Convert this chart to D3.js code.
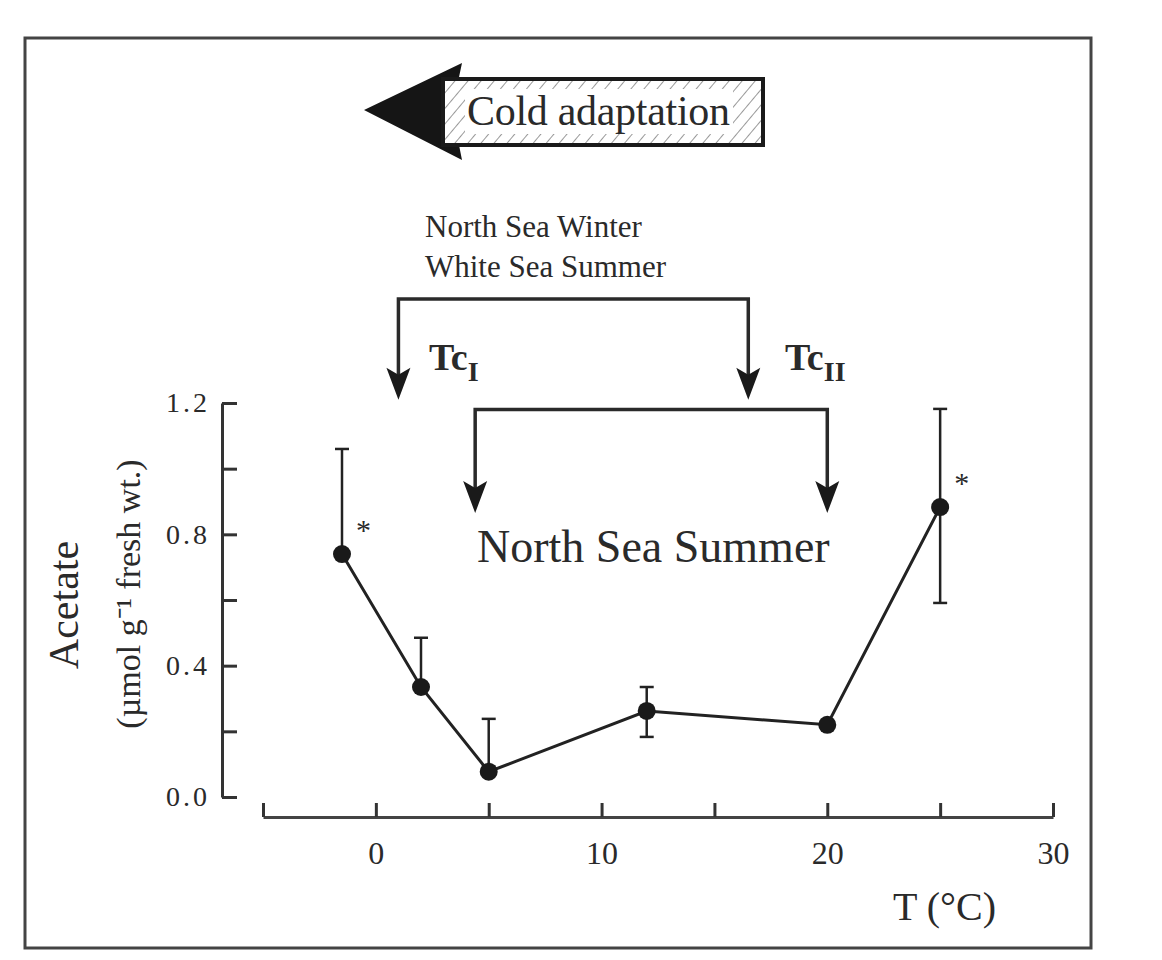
<!DOCTYPE html>
<html>
<head>
<meta charset="utf-8">
<script src="https://cdn.jsdelivr.net/npm/d3@7"></script>
<style>
  body { margin: 0; background: #fff; }
  svg text { font-family: "Liberation Serif", "Times New Roman", serif; fill: #2a2a2a; }
</style>
</head>
<body>
<svg></svg>
<script>
// data
const temps = [-1.5, 2, 5, 12, 20, 25];
const acetate = [0.74, 0.335, 0.077, 0.262, 0.22, 0.883];
const errUpper = [1.06, 0.485, 0.238, 0.335, null, 1.182];
const errLower = [null, null, null, 0.183, null, 0.591];
const starred = [true, false, false, false, false, true];

const xTicks = [-5, 0, 5, 10, 15, 20, 25, 30];
const xTickLabels = [0, 10, 20, 30];
const yTicks = [0, 0.2, 0.4, 0.6, 0.8, 1.0, 1.2];
const yTickLabels = [0, 0.4, 0.8, 1.2];

// critical temperature brackets (x in °C, y in acetate units)
const winterBracket = { x0: 1, x1: 16.5, top: 1.517, tip: 1.21 };
const summerBracket = { x0: 4.4, x1: 20, top: 1.18, tip: 0.865 };

const width = 1162;
const height = 960;

const svg = d3.select("svg").attr("width", width).attr("height", height);

const x = d3.scaleLinear().domain([-5, 30]).range([263, 1053]);
const y = d3.scaleLinear().domain([0, 1.2]).range([797, 403]);

// frame
svg.append("rect")
  .attr("x", 25).attr("y", 38)
  .attr("width", 1066).attr("height", 910)
  .attr("fill", "none")
  .attr("stroke", "#444")
  .attr("stroke-width", 3);

// x axis
const xAxis = d3.axisBottom(x)
  .tickValues(xTicks)
  .tickSize(-14)
  .tickSizeOuter(0)
  .tickPadding(24)
  .tickFormat((d) => (xTickLabels.includes(d) ? d : ""));

const xAxisG = svg.append("g")
  .attr("transform", "translate(0,817)")
  .call(xAxis);
xAxisG.select(".domain").attr("stroke", "#444").attr("stroke-width", 3);
xAxisG.selectAll(".tick line").attr("stroke", "#333").attr("stroke-width", 3);
xAxisG.selectAll(".tick text")
  .attr("font-size", 32)
  .attr("font-family", "Liberation Serif, serif")
  .attr("fill", "#333");

// y axis
const yAxis = d3.axisLeft(y)
  .tickValues(yTicks)
  .tickSize(-15)
  .tickSizeOuter(0)
  .tickPadding(12)
  .tickFormat((d) => (yTickLabels.some((v) => Math.abs(v - d) < 1e-6) ? d3.format(".1f")(d) : ""));

const yAxisG = svg.append("g")
  .attr("transform", "translate(222,0)")
  .call(yAxis);
yAxisG.select(".domain").attr("stroke", "#333").attr("stroke-width", 3);
yAxisG.selectAll(".tick line").attr("stroke", "#333").attr("stroke-width", 3);
yAxisG.selectAll(".tick text")
  .attr("font-size", 28)
  .attr("letter-spacing", 3)
  .attr("font-family", "Liberation Serif, serif")
  .attr("fill", "#555");

// axis titles
svg.append("text")
  .attr("transform", "translate(78,605) rotate(-90)")
  .attr("text-anchor", "middle")
  .attr("font-size", 42)
  .text("Acetate");

svg.append("text")
  .attr("transform", "translate(140,594) rotate(-90)")
  .attr("text-anchor", "middle")
  .attr("font-size", 34)
  .text("(µmol g⁻¹ fresh wt.)");

svg.append("text")
  .attr("x", 893).attr("y", 920)
  .attr("font-size", 40)
  .text("T (°C)");

// error bars
const pts = temps.map((t, i) => ({
  t, v: acetate[i], hi: errUpper[i], lo: errLower[i], star: starred[i]
}));
const capW = 7;
const errG = svg.append("g").attr("stroke", "#222").attr("stroke-width", 2.5);
pts.forEach((d) => {
  [d.hi, d.lo].forEach((e) => {
    if (e == null) return;
    errG.append("line")
      .attr("x1", x(d.t)).attr("x2", x(d.t))
      .attr("y1", y(d.v)).attr("y2", y(e));
    errG.append("line")
      .attr("x1", x(d.t) - capW).attr("x2", x(d.t) + capW)
      .attr("y1", y(e)).attr("y2", y(e));
  });
});

// line + points
const line = d3.line().x((d) => x(d.t)).y((d) => y(d.v));
svg.append("path")
  .datum(pts)
  .attr("d", line)
  .attr("fill", "none")
  .attr("stroke", "#222")
  .attr("stroke-width", 3);

svg.selectAll("circle.pt")
  .data(pts)
  .enter()
  .append("circle")
  .attr("class", "pt")
  .attr("cx", (d) => x(d.t))
  .attr("cy", (d) => y(d.v))
  .attr("r", 9)
  .attr("fill", "#1a1a1a");

svg.selectAll("text.star")
  .data(pts.filter((d) => d.star))
  .enter()
  .append("text")
  .attr("class", "star")
  .attr("x", (d) => x(d.t) + 14)
  .attr("y", (d) => y(d.v) - 14)
  .attr("font-size", 30)
  .attr("fill", "#555")
  .text("*");

// brackets with down arrows
const arrowHead = (px, py) =>
  `M${px},${py} L${px - 12},${py - 32} L${px},${py - 25} L${px + 12},${py - 32} Z`;

const drawBracket = (b) => {
  const g = svg.append("g");
  g.append("path")
    .attr("d", `M${x(b.x0)},${y(b.tip) - 20} V${y(b.top)} H${x(b.x1)} V${y(b.tip) - 20}`)
    .attr("fill", "none")
    .attr("stroke", "#2a2a2a")
    .attr("stroke-width", 3.5);
  [b.x0, b.x1].forEach((xv) => {
    g.append("path")
      .attr("d", arrowHead(x(xv), y(b.tip)))
      .attr("fill", "#1a1a1a");
  });
};
drawBracket(winterBracket);
drawBracket(summerBracket);

const tc = (px, sub) => {
  const t = svg.append("text")
    .attr("x", px).attr("y", 370)
    .attr("font-size", 38)
    .attr("font-weight", "bold")
    .text("Tc");
  t.append("tspan")
    .attr("font-size", 28)
    .attr("dy", 11)
    .text(sub);
};
tc(429, "I");
tc(785, "II");

svg.append("text")
  .attr("x", 425).attr("y", 237)
  .attr("font-size", 31)
  .text("North Sea Winter");
svg.append("text")
  .attr("x", 425).attr("y", 277)
  .attr("font-size", 31)
  .text("White Sea Summer");

svg.append("text")
  .attr("x", 477).attr("y", 562)
  .attr("font-size", 46)
  .text("North Sea Summer");

// cold adaptation arrow
const defs = svg.append("defs");
const pat = defs.append("pattern")
  .attr("id", "hatch")
  .attr("patternUnits", "userSpaceOnUse")
  .attr("width", 10).attr("height", 10)
  .attr("patternTransform", "rotate(40)");
pat.append("line")
  .attr("x1", 0).attr("y1", 0).attr("x2", 0).attr("y2", 10)
  .attr("stroke", "#777").attr("stroke-width", 1.5);

svg.append("path")
  .attr("d", "M364,110 L462,63 L452,110 L462,160 Z")
  .attr("fill", "#151515");

svg.append("rect")
  .attr("x", 443).attr("y", 79)
  .attr("width", 320).attr("height", 66)
  .attr("fill", "#fff");
svg.append("rect")
  .attr("x", 443).attr("y", 79)
  .attr("width", 320).attr("height", 66)
  .attr("fill", "url(#hatch)")
  .attr("stroke", "#1a1a1a")
  .attr("stroke-width", 4);
svg.append("rect")
  .attr("x", 465).attr("y", 89)
  .attr("width", 268).attr("height", 45)
  .attr("fill", "#fff");
svg.append("text")
  .attr("x", 467).attr("y", 125)
  .attr("font-size", 42)
  .attr("textLength", 263)
  .text("Cold adaptation");
</script>
</body>
</html>
